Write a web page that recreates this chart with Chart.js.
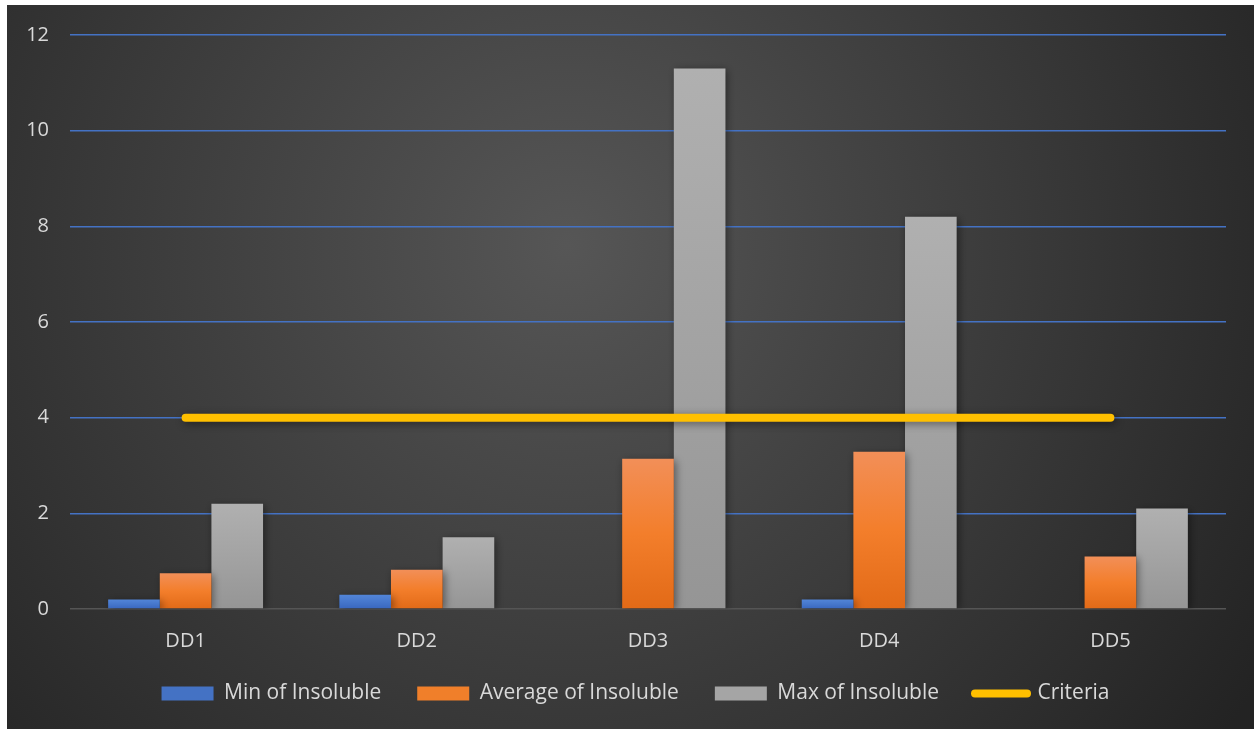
<!DOCTYPE html>
<html>
<head>
<meta charset="utf-8">
<script src="https://cdn.jsdelivr.net/npm/chart.js@4.4.1/dist/chart.umd.min.js"></script>
<style>
    html, body { margin: 0; padding: 0; background: #ffffff; }
    #caja { position: absolute; left: 7px; top: 5px; width: 1247px; height: 724px; }
</style>
</head>
<body>
<div id="caja"><canvas id="chartInsolubles"></canvas></div>
<script>
const categorias = ['DD1', 'DD2', 'DD3', 'DD4', 'DD5'];
const minInsoluble = [0.2, 0.3, 0, 0.2, 0];
const avgInsoluble = [0.75, 0.82, 3.14, 3.29, 1.1];
const maxInsoluble = [2.2, 1.5, 11.3, 8.2, 2.1];
const criterio = [4, 4, 4, 4, 4];
const ticksY = [0, 2, 4, 6, 8, 10, 12];

// degradado vertical por barra (arriba claro, abajo oscuro)
function degradado(colores, solido) {
    return function (c) {
        const chart = c.chart;
        if (!chart.chartArea || c.raw === undefined) return solido;
        const y = chart.scales.y;
        const top = y.getPixelForValue(c.raw);
        const base = y.getPixelForValue(0);
        if (base - top < 1) return solido;
        const g = chart.ctx.createLinearGradient(0, top, 0, base);
        g.addColorStop(0, colores[0]);
        g.addColorStop(0.5, colores[1]);
        g.addColorStop(1, colores[2]);
        return g;
    };
}

const fondo = {
    id: 'fondo',
    beforeDraw(chart) {
        const ctx = chart.ctx;
        const w = chart.width, h = chart.height;
        const g = ctx.createRadialGradient(560, 240, 0, 560, 240, 820);
        g.addColorStop(0, '#565656');
        g.addColorStop(0.55, '#3a3a3a');
        g.addColorStop(1, '#232323');
        ctx.save();
        ctx.fillStyle = g;
        ctx.fillRect(0, 0, w, h);
        ctx.restore();
    }
};

const sombra = {
    id: 'sombra',
    beforeDatasetDraw(chart) {
        const ctx = chart.ctx;
        ctx.save();
        ctx.shadowColor = 'rgba(0,0,0,0.45)';
        ctx.shadowBlur = 8;
        ctx.shadowOffsetX = 2;
        ctx.shadowOffsetY = 2;
    },
    afterDatasetDraw(chart) {
        chart.ctx.restore();
    }
};

// la leyenda original esta un poco mas a la derecha
const moverLeyenda = {
    id: 'moverLeyenda',
    afterLayout(chart) {
        if (chart.legend) {
            chart.legend.left += 19;
            chart.legend.right += 19;
        }
    }
};

const solidos = ['#4472C4', '#F07F2A', '#A5A5A5', '#FFC000'];

new Chart(document.getElementById('chartInsolubles').getContext('2d'), {
    type: 'bar',
    data: {
        labels: categorias,
        datasets: [{
            label: 'Min of Insoluble',
            data: minInsoluble,
            backgroundColor: degradado(['#5285D8', '#4677CC', '#3866BE'], '#4472C4'),
            order: 1
        }, {
            label: 'Average of Insoluble',
            data: avgInsoluble,
            backgroundColor: degradado(['#F28F58', '#F37E2B', '#E26A17'], '#F07F2A'),
            order: 1
        }, {
            label: 'Max of Insoluble',
            data: maxInsoluble,
            backgroundColor: degradado(['#B0B0B0', '#A3A3A3', '#959595'], '#A5A5A5'),
            order: 1
        }, {
            type: 'line',
            label: 'Criteria',
            data: criterio,
            borderColor: '#FFC000',
            backgroundColor: '#FFC000',
            borderWidth: 8,
            borderCapStyle: 'round',
            pointRadius: 0,
            pointHoverRadius: 0,
            order: 0
        }]
    },
    options: {
        responsive: true,
        maintainAspectRatio: false,
        animation: false,
        datasets: {
            bar: { categoryPercentage: 0.67, barPercentage: 1.0 }
        },
        layout: {
            padding: { left: 0, right: 28, top: 30, bottom: 15 }
        },
        scales: {
            x: {
                grid: { display: false, drawTicks: false },
                border: { display: false },
                ticks: {
                    color: '#D9D9D9',
                    font: { family: 'Open Sans', size: 20 },
                    padding: 20
                },
                afterFit: function (scale) {
                    scale.height -= 26;
                }
            },
            y: {
                min: 0,
                max: 12,
                afterBuildTicks: function (scale) {
                    scale.ticks = ticksY.map(v => ({ value: v }));
                },
                afterFit: function (scale) {
                    scale.width = 63;
                    scale.paddingTop = 10;
                    scale.paddingBottom = 10;
                },
                grid: {
                    drawTicks: false,
                    lineWidth: 1.6,
                    color: function (c) {
                        return c.tick && c.tick.value === 0 ? '#555555' : '#4472C4';
                    }
                },
                border: { display: false },
                ticks: {
                    color: '#D9D9D9',
                    font: { family: 'Open Sans', size: 20 },
                    padding: 21
                }
            }
        },
        plugins: {
            legend: {
                position: 'bottom',
                labels: {
                    color: '#D9D9D9',
                    font: { family: 'Open Sans', size: 21 },
                    usePointStyle: true,
                    pointStyleWidth: 52,
                    boxWidth: 52,
                    boxHeight: 14,
                    padding: 36,
                    sort: function (a, b) { return a.datasetIndex - b.datasetIndex; },
                    generateLabels: function (chart) {
                        const items = Chart.defaults.plugins.legend.labels.generateLabels(chart);
                        items.forEach(function (it) {
                            const i = it.datasetIndex;
                            it.fillStyle = solidos[i];
                            it.strokeStyle = solidos[i];
                            if (i === 3) {
                                it.pointStyle = 'line';
                                it.lineWidth = 8;
                                it.lineCap = 'round';
                            } else {
                                it.pointStyle = 'rect';
                                it.lineWidth = 0;
                            }
                        });
                        return items;
                    }
                }
            },
            tooltip: { enabled: false }
        }
    },
    plugins: [fondo, sombra, moverLeyenda]
});
</script>
</body>
</html>
